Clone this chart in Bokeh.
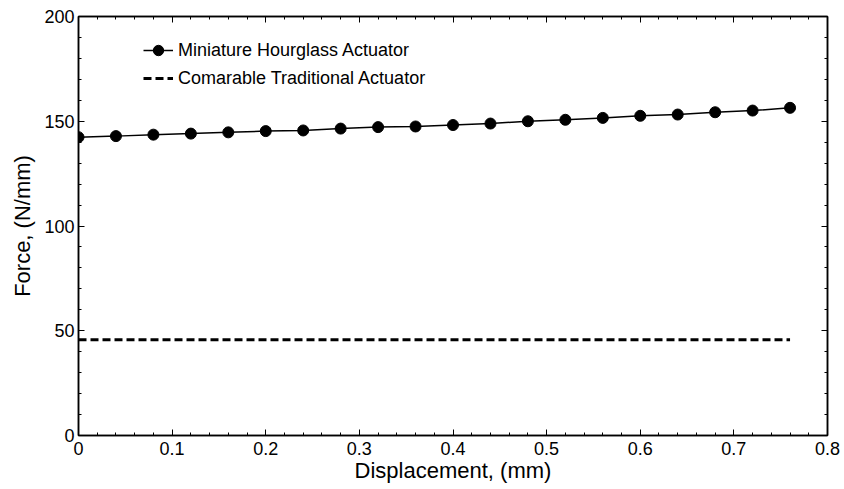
from bokeh.plotting import figure
from bokeh.models import (Range1d, FixedTicker, LinearAxis, Legend, LegendItem,
                          CustomLabelingPolicy)
from bokeh.embed import file_html
from bokeh.resources import INLINE

# ---- data ----
displacement = [0.00, 0.04, 0.08, 0.12, 0.16, 0.20, 0.24, 0.28, 0.32, 0.36,
                0.40, 0.44, 0.48, 0.52, 0.56, 0.60, 0.64, 0.68, 0.72, 0.76]
force_hourglass = [142.4, 142.9, 143.6, 144.1, 144.7, 145.3, 145.6, 146.5, 147.2, 147.5,
                   148.2, 148.9, 150.0, 150.7, 151.6, 152.6, 153.2, 154.3, 155.1, 156.4]
trad_displacement = [0.00, 0.76]
force_traditional = [45.7, 45.7]

x_tick_values = [0, 0.1, 0.2, 0.3, 0.4, 0.5, 0.6, 0.7, 0.8]
x_tick_labels = ["0", "0.1", "0.2", "0.3", "0.4", "0.5", "0.6", "0.7", "0.8"]
y_tick_values = [0, 50, 100, 150, 200]
y_tick_labels = ["0", "50", "100", "150", "200"]

series_labels = ["Miniature Hourglass Actuator", "Comarable Traditional Actuator"]
x_label = "Displacement, (mm)"
y_label = "Force, (N/mm)"

FONT = "Liberation Sans"

x_minor = [round(i * 0.02, 4) for i in range(41)]
y_minor = [i * 10 for i in range(21)]

p = figure(width=844, height=489, output_backend="svg", toolbar_location=None,
           x_range=Range1d(0, 0.8), y_range=Range1d(0, 200),
           min_border_left=78, min_border_right=17, min_border_top=16, min_border_bottom=54,
           x_axis_location=None, y_axis_location=None)
p.xgrid.visible = False
p.ygrid.visible = False
p.outline_line_color = "black"
p.outline_line_width = 1.5
p.background_fill_color = "white"
p.border_fill_color = "white"

xt = FixedTicker(ticks=x_tick_values, minor_ticks=x_minor)
yt = FixedTicker(ticks=y_tick_values, minor_ticks=y_minor)

def style(ax, show_labels):
    ax.major_tick_in = 6
    ax.major_tick_out = 0
    ax.minor_tick_in = 3
    ax.minor_tick_out = 0
    ax.axis_line_color = "black"
    ax.axis_line_width = 1.5
    ax.major_tick_line_color = "black"
    ax.minor_tick_line_color = "black"
    ax.major_label_text_font = FONT
    ax.major_label_text_color = "black"
    ax.axis_label_text_font = FONT
    ax.axis_label_text_font_style = "normal"
    ax.axis_label_text_color = "black"
    if not show_labels:
        ax.major_label_text_font_size = "2px"
        ax.major_label_standoff = 0
        ax.major_label_policy = CustomLabelingPolicy(code="return new Set()")

bx = LinearAxis(ticker=xt, axis_label=x_label,
                major_label_overrides={v: s for v, s in zip(x_tick_values, x_tick_labels)})
style(bx, True)
bx.major_label_text_font_size = "18px"
bx.axis_label_text_font_size = "22px"
bx.major_label_standoff = 6
bx.axis_label_standoff = 0
p.add_layout(bx, "below")

ly = LinearAxis(ticker=yt, axis_label=y_label,
                major_label_overrides={v: s for v, s in zip(y_tick_values, y_tick_labels)})
style(ly, True)
ly.major_label_text_font_size = "18px"
ly.axis_label_text_font_size = "22px"
ly.major_label_standoff = 4
ly.axis_label_standoff = 6
p.add_layout(ly, "left")

tx = LinearAxis(ticker=xt)
style(tx, False)
p.add_layout(tx, "above")

ry = LinearAxis(ticker=yt)
style(ry, False)
p.add_layout(ry, "right")

r_line = p.line(displacement, force_hourglass, line_color="black", line_width=1.5)
r_pts = p.scatter(displacement, force_hourglass, marker="circle", size=11,
                  fill_color="black", line_color="black")
r_dash = p.line(trad_displacement, force_traditional, line_color="black",
                line_width=3, line_dash="8 4")

legend = Legend(items=[LegendItem(label=series_labels[0], renderers=[r_line, r_pts]),
                       LegendItem(label=series_labels[1], renderers=[r_dash])],
                location=(65, 344))
legend.border_line_color = None
legend.background_fill_alpha = 0
legend.label_text_font = FONT
legend.label_text_font_size = "18px"
legend.label_text_color = "black"
legend.glyph_width = 30
legend.glyph_height = 26
legend.label_height = 26
legend.spacing = 2
legend.padding = 0
legend.margin = 0
legend.label_standoff = 5
p.add_layout(legend, "center")

open("out.html", "w").write(file_html(p, INLINE))
